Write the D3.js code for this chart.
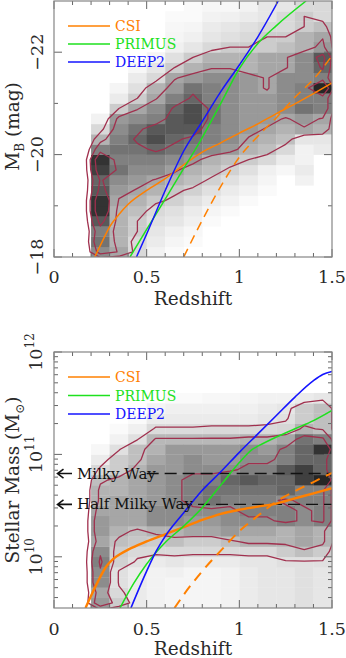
<!DOCTYPE html>
<html><head><meta charset="utf-8">
<script src="https://cdn.jsdelivr.net/npm/d3@7"></script>
<style>body{margin:0;background:#fff} svg{display:block} text{font-family:"DejaVu Serif",serif}</style>
</head><body><svg id="c" width="346" height="658"></svg>
<script>
// ---------------- DATA ----------------
const zBinLeft = [0.2,0.3,0.4,0.5,0.6,0.7,0.8,0.9,1.0,1.1,1.2,1.3,1.4]; // bin width 0.1
const mbBinStep = 0.2;     // magnitude bins from -18 upward (brighter)
const massBinStep = 0.1;   // log10 mass bins from 9.5 upward
// density (0..1 darkness) per redshift column, bins from M_B=-18 (first) to -23 (last)
const mbGrid = [
 [0.45,0.55,0.5,0.65,0.8,0.8,0.65,0.6,0.75,0.8,0.5,0.3,0.15,0.05,0,0,0,0,0,0,0,0,0,0,0],
 [0.35,0.3,0.3,0.3,0.3,0.35,0.4,0.45,0.55,0.5,0.55,0.5,0.45,0.4,0.2,0.08,0.04,0,0,0,0,0,0,0,0],
 [0.15,0.15,0.2,0.2,0.25,0.3,0.35,0.4,0.45,0.5,0.55,0.6,0.55,0.45,0.35,0.2,0.12,0.08,0.03,0,0,0,0,0,0],
 [0.05,0.08,0.1,0.12,0.15,0.22,0.3,0.35,0.45,0.5,0.6,0.7,0.65,0.5,0.45,0.35,0.3,0.15,0.1,0.04,0,0,0,0,0],
 [0.02,0.04,0.06,0.1,0.12,0.18,0.22,0.3,0.38,0.45,0.55,0.6,0.65,0.65,0.6,0.5,0.4,0.35,0.2,0.12,0.06,0.04,0.03,0.02,0],
 [0,0.02,0.03,0.06,0.08,0.12,0.18,0.25,0.3,0.4,0.5,0.55,0.65,0.7,0.7,0.6,0.55,0.4,0.3,0.2,0.1,0.06,0.04,0.02,0.02],
 [0,0,0,0.02,0.04,0.08,0.12,0.18,0.25,0.3,0.45,0.5,0.5,0.55,0.55,0.5,0.5,0.45,0.35,0.3,0.15,0.1,0.08,0.05,0.03],
 [0,0,0,0,0.02,0.05,0.08,0.12,0.18,0.25,0.4,0.45,0.45,0.45,0.45,0.45,0.45,0.45,0.35,0.3,0.2,0.12,0.1,0.06,0.03],
 [0,0,0,0,0,0.02,0.05,0.08,0.12,0.2,0.3,0.35,0.4,0.4,0.4,0.4,0.4,0.4,0.3,0.3,0.2,0.15,0.12,0.08,0.05],
 [0,0,0,0,0,0,0.02,0.04,0.06,0.15,0.25,0.3,0.35,0.4,0.4,0.4,0.35,0.35,0.35,0.35,0.2,0.2,0.15,0.1,0.1],
 [0,0,0,0,0,0,0,0,0.03,0.08,0.15,0.25,0.3,0.35,0.45,0.45,0.45,0.45,0.35,0.35,0.25,0.2,0.15,0.15,0.1],
 [0,0,0,0,0,0,0,0.05,0.08,0.05,0.05,0.1,0.35,0.4,0.55,0.5,0.5,0.45,0.45,0.45,0.3,0.3,0.2,0.2,0.15],
 [0,0,0,0,0,0,0,0,0,0,0.08,0.1,0.3,0.35,0.5,0.5,0.85,0.5,0.6,0.65,0.4,0.35,0.25,0.15,0.15]
];
// density per redshift column, bins from log M=9.5 (first) to 12.0 (last)
const massGrid = [
 [0.4,0.35,0.45,0.45,0.5,0.45,0.35,0.4,0.4,0.35,0.3,0.3,0.25,0.15,0.08,0.03,0,0,0,0,0,0,0,0,0],
 [0.2,0.15,0.12,0.12,0.18,0.2,0.25,0.3,0.35,0.35,0.35,0.3,0.3,0.2,0.2,0.12,0.05,0.02,0,0,0,0,0,0,0],
 [0.08,0.08,0.08,0.08,0.12,0.15,0.22,0.25,0.35,0.35,0.35,0.35,0.35,0.3,0.25,0.25,0.12,0.06,0.02,0,0,0,0,0,0],
 [0.05,0.05,0.05,0.05,0.08,0.15,0.2,0.3,0.45,0.45,0.4,0.4,0.4,0.4,0.35,0.3,0.28,0.14,0.08,0.04,0,0,0,0,0],
 [0.04,0.04,0.04,0.06,0.1,0.15,0.25,0.3,0.45,0.45,0.45,0.45,0.45,0.4,0.4,0.4,0.28,0.14,0.08,0.06,0.02,0,0,0,0],
 [0.04,0.04,0.04,0.04,0.08,0.15,0.2,0.35,0.4,0.45,0.5,0.5,0.5,0.45,0.45,0.4,0.28,0.14,0.08,0.06,0.02,0,0,0,0],
 [0.04,0.04,0.04,0.04,0.08,0.15,0.2,0.35,0.4,0.45,0.55,0.55,0.5,0.45,0.4,0.4,0.28,0.15,0.08,0.06,0.03,0,0,0,0],
 [0.05,0.05,0.05,0.05,0.08,0.15,0.25,0.4,0.45,0.45,0.5,0.55,0.6,0.45,0.4,0.4,0.28,0.15,0.08,0.06,0.03,0,0,0,0],
 [0.08,0.08,0.08,0.08,0.1,0.15,0.3,0.35,0.45,0.5,0.5,0.55,0.65,0.5,0.45,0.45,0.3,0.15,0.08,0.06,0.04,0,0,0,0],
 [0.1,0.1,0.1,0.1,0.1,0.15,0.3,0.35,0.45,0.5,0.5,0.55,0.6,0.5,0.45,0.4,0.3,0.15,0.1,0.08,0.05,0,0,0,0],
 [0.1,0.1,0.1,0.1,0.12,0.2,0.3,0.3,0.5,0.5,0.45,0.6,0.6,0.65,0.5,0.5,0.35,0.16,0.12,0.1,0.05,0,0,0,0],
 [0.12,0.12,0.12,0.12,0.12,0.25,0.35,0.35,0.45,0.45,0.5,0.5,0.75,0.75,0.6,0.6,0.55,0.3,0.2,0.2,0.08,0,0,0,0],
 [0.1,0.1,0.1,0.1,0.12,0.2,0.3,0.3,0.5,0.5,0.5,0.5,0.85,0.6,0.6,0.8,0.5,0.25,0.25,0.25,0.1,0,0,0,0]
];
const mbContourLevels = [0.2, 0.36, 0.58];
const massContourLevels = [0.13, 0.27, 0.47];

// selection limits, [redshift, M_B]
const csiMB = [[0.22,-18],[0.26,-18.3],[0.3,-18.59],[0.35,-18.83],[0.4,-19.03],[0.5,-19.3],[0.6,-19.53],[0.7,-19.8],[0.8,-20.05],[0.9,-20.23],[1.0,-20.42],[1.1,-20.6],[1.2,-20.8],[1.3,-20.99],[1.4,-21.19],[1.5,-21.4]];
const csiMBdash = [[0.7,-18],[0.8,-18.72],[0.9,-19.38],[1.0,-19.95],[1.1,-20.36],[1.2,-20.72],[1.3,-21.12],[1.4,-21.47],[1.5,-21.93]];
const primusMB = [[0.41,-18],[0.5,-18.54],[0.6,-19.13],[0.7,-19.73],[0.79,-20.27],[0.9,-21.0],[1.0,-21.68],[1.1,-22.17],[1.2,-22.52],[1.36,-23.0]];
const deep2MB = [[0.445,-18],[0.5,-18.45],[0.6,-19.3],[0.7,-20.07],[0.8,-20.65],[0.9,-21.23],[1.0,-21.75],[1.1,-22.3],[1.21,-23.0]];
// selection limits, [redshift, log10 M*]
const csiMass = [[0.17,9.5],[0.2,9.62],[0.24,9.77],[0.28,9.9],[0.32,9.98],[0.36,10.03],[0.4,10.07],[0.5,10.15],[0.6,10.22],[0.7,10.29],[0.8,10.36],[0.9,10.42],[1.0,10.46],[1.1,10.49],[1.2,10.52],[1.3,10.57],[1.4,10.62],[1.5,10.67]];
const csiMassDash = [[0.65,9.5],[0.7,9.63],[0.8,9.86],[0.9,10.06],[1.0,10.25],[1.1,10.4],[1.2,10.54],[1.3,10.64],[1.4,10.73],[1.5,10.82]];
const primusMass = [[0.356,9.5],[0.43,9.74],[0.5,9.93],[0.6,10.14],[0.7,10.3],[0.8,10.48],[0.9,10.7],[1.0,10.92],[1.07,11.05],[1.1,11.08],[1.2,11.17],[1.3,11.25],[1.4,11.33],[1.5,11.43]];
const deep2Mass = [[0.415,9.5],[0.5,9.86],[0.55,10.05],[0.6,10.2],[0.7,10.43],[0.8,10.65],[0.9,10.83],[1.0,11.02],[1.1,11.2],[1.2,11.38],[1.3,11.56],[1.4,11.72],[1.45,11.78],[1.5,11.81]];

const refLabels = ["Milky Way","Half Milky Way"];
const refMass = [6.5e10, 3.25e10];
const refStartZ = [0.5, 0.68];
const legendNames = ["CSI","PRIMUS","DEEP2"];
const legendColors = ["#ff8000","#1ee11e","#1414ff"];
const xTickLabels = [0,0.5,1,1.5];
const mbTickLabels = [-22,-20,-18];
const massTickExp = [10,11,12];

// ---------------- DRAW ----------------
const svg = d3.select("#c");
const X0 = 54, X1 = 332;
const TXT = "#2a2a2a";
const x = d3.scaleLinear([0,1.5],[X0,X1]);
const yMB = d3.scaleLinear([-18,-23],[257,1]);
const yM = d3.scaleLog([Math.pow(10,9.5),1e12],[608,352]);
const gray = d => d3.rgb(255*(1-d),255*(1-d),255*(1-d)).toString();
const CONTOUR = "#a0304e";

function drawPanel(id, ys, grid, step, y0, levels, toY) {
  const top = ys.range()[1], bot = ys.range()[0];
  svg.append("clipPath").attr("id", id).append("rect")
    .attr("x", X0).attr("y", top).attr("width", X1-X0).attr("height", bot-top);
  const g = svg.append("g").attr("clip-path", `url(#${id})`);
  grid.forEach((col, i) => col.forEach((d, j) => {
    if (d <= 0) return;
    const ya = ys(toY(y0 + j*step)), yb = ys(toY(y0 + (j+1)*step));
    g.append("rect").attr("x", x(zBinLeft[i])).attr("width", x(zBinLeft[i]+0.1)-x(zBinLeft[i])+0.3)
      .attr("y", Math.min(ya,yb)).attr("height", Math.abs(ya-yb)+0.3).attr("fill", gray(d));
  }));
  const n = grid.length + 2, m = grid[0].length + 2;
  const vals = new Array(n*m).fill(0);
  grid.forEach((col, i) => col.forEach((d, j) => { vals[(j+1)*n + (i+1)] = d; }));
  const contours = d3.contours().size([n, m]).thresholds(levels)(vals);
  const zStart = zBinLeft[0] - 0.1, yStart = y0 - step;
  const path = d3.geoPath(d3.geoTransform({ point(px, py) {
    this.stream.point(x(zStart + px*0.1), ys(toY(yStart + py*step)));
  }}));
  g.selectAll(null).data(contours).join("path").attr("d", path)
    .attr("fill", "none").attr("stroke", CONTOUR).attr("stroke-width", 1.3).attr("stroke-linejoin","round");
  return g;
}

function frameAndTicks(ys, majorY, minorY) {
  const top = ys.range()[1], bot = ys.range()[0];
  const g = svg.append("g").attr("stroke", "#666").attr("stroke-width", 1);
  d3.range(0, 1.5001, 0.1).forEach(v => {
    const major = Math.abs(v*2 - Math.round(v*2)) < 1e-6;
    const L = major ? 8 : 4;
    g.append("line").attr("x1", x(v)).attr("x2", x(v)).attr("y1", bot).attr("y2", bot-L);
    g.append("line").attr("x1", x(v)).attr("x2", x(v)).attr("y1", top).attr("y2", top+L);
  });
  majorY.forEach(v => {
    g.append("line").attr("x1", X0).attr("x2", X0+8).attr("y1", ys(v)).attr("y2", ys(v));
    g.append("line").attr("x1", X1).attr("x2", X1-8).attr("y1", ys(v)).attr("y2", ys(v));
  });
  minorY.forEach(v => {
    g.append("line").attr("x1", X0).attr("x2", X0+4).attr("y1", ys(v)).attr("y2", ys(v));
    g.append("line").attr("x1", X1).attr("x2", X1-4).attr("y1", ys(v)).attr("y2", ys(v));
  });
  svg.append("rect").attr("x", X0).attr("y", top).attr("width", X1-X0).attr("height", bot-top)
    .attr("fill", "none").attr("stroke", "#858585").attr("stroke-width", 1.2);
}

function xLabels(tickBase, titleBase) {
  xTickLabels.forEach(v => svg.append("text").attr("x", x(v)).attr("y", tickBase)
    .attr("text-anchor", "middle").attr("font-size", 17.5).attr("fill", TXT).text(v));
  svg.append("text").attr("x", x(0.75)).attr("y", titleBase).attr("text-anchor", "middle")
    .attr("font-size", 18.5).attr("fill", TXT).text("Redshift");
}

function selLine(data, ys, toY) {
  return d3.line().x(d => x(d[0])).y(d => ys(toY(d[1]))).curve(d3.curveMonotoneX)(data);
}

function legend(yFirst, gap) {
  legendNames.forEach((nm, i) => {
    const yy = yFirst + i*gap;
    svg.append("line").attr("x1", 68).attr("x2", 110).attr("y1", yy).attr("y2", yy)
      .attr("stroke", legendColors[i]).attr("stroke-width", 1.6);
    svg.append("text").attr("x", 115).attr("y", yy+5).attr("font-size", 14)
      .attr("fill", legendColors[i]).text(nm);
  });
}

// ===== Top panel =====
const idY = v => v;
const gTop = drawPanel("clipTop", yMB, mbGrid, -mbBinStep, -18, mbContourLevels, idY);
[[csiMBdash,"#ff8000",1.5,"9,6"],[csiMB,"#ff8000",1.5,null],[primusMB,"#1ee11e",1.5,null],[deep2MB,"#1414ff",1.5,null]]
  .forEach(([d,c,w,da]) => {
    const p = gTop.append("path").attr("d", selLine(d, yMB, idY)).attr("fill","none")
      .attr("stroke", c).attr("stroke-width", w);
    if (da) p.attr("stroke-dasharray", da);
  });
frameAndTicks(yMB, mbTickLabels, [-21,-19]);
legend(26, 18);
xLabels(283, 305);
mbTickLabels.forEach(v => svg.append("text")
  .attr("transform", `translate(43,${yMB(v)}) rotate(-90)`).attr("text-anchor","middle")
  .attr("font-size", 17.5).attr("fill",TXT).text("\u2212" + Math.abs(v)));
{
  const t = svg.append("text").attr("transform", `translate(19,${yMB(-20.55)}) rotate(-90)`)
    .attr("text-anchor","middle").attr("font-size", 18.5).attr("fill",TXT);
  t.append("tspan").text("M");
  t.append("tspan").attr("font-size", 12).attr("dy", 5).text("B");
  t.append("tspan").attr("dy", -5).text(" (mag)");
}

// ===== Bottom panel =====
const pow10 = v => Math.pow(10, v);
const gBot = drawPanel("clipBot", yM, massGrid, massBinStep, 9.5, massContourLevels, pow10);
refMass.forEach((mv, i) => {
  gBot.append("line").attr("x1", x(refStartZ[i])).attr("x2", X1).attr("y1", yM(mv)).attr("y2", yM(mv))
    .attr("stroke", "#111").attr("stroke-width", 1.4).attr("stroke-dasharray", "12,6");
});
[[csiMassDash,"#ff8000",2,"10,7"],[csiMass,"#ff8000",2.4,null],[primusMass,"#1ee11e",1.5,null],[deep2Mass,"#1414ff",1.6,null]]
  .forEach(([d,c,w,da]) => {
    const p = gBot.append("path").attr("d", selLine(d, yM, pow10)).attr("fill","none")
      .attr("stroke", c).attr("stroke-width", w);
    if (da) p.attr("stroke-dasharray", da);
  });
refMass.forEach((mv, i) => {
  const yy = yM(mv);
  svg.append("path").attr("d", `M72,${yy}H57.5M63.5,${yy-4.5}L57.5,${yy}L63.5,${yy+4.5}`)
    .attr("fill","none").attr("stroke","#111").attr("stroke-width",1.6);
  svg.append("text").attr("x", 77).attr("y", yy+5).attr("font-size", 15).attr("fill","#111").text(refLabels[i]);
});
const massMinor = [];
[9,10,11].forEach(e => d3.range(2,10).forEach(k => { const v = k*Math.pow(10,e); if (v > Math.pow(10,9.5) && v < 1e12) massMinor.push(v); }));
frameAndTicks(yM, massTickExp.map(pow10), massMinor);
legend(377, 18.5);
xLabels(635, 655);
massTickExp.forEach(e => {
  const t = svg.append("text").attr("transform", `translate(42,${yM(pow10(e))}) rotate(-90)`)
    .attr("text-anchor","middle").attr("font-size", 17.5).attr("fill",TXT);
  t.append("tspan").text("10");
  t.append("tspan").attr("font-size", 12).attr("dy", -8).text(e);
});
{
  const t = svg.append("text").attr("transform", `translate(19,${yM(pow10(10.75))}) rotate(-90)`)
    .attr("text-anchor","middle").attr("font-size", 18.5).attr("fill",TXT);
  t.append("tspan").text("Stellar Mass (M");
  t.append("tspan").attr("font-size", 12).attr("dy", 5).text("\u2299");
  t.append("tspan").attr("dy", -5).text(")");
}
</script></body></html>
